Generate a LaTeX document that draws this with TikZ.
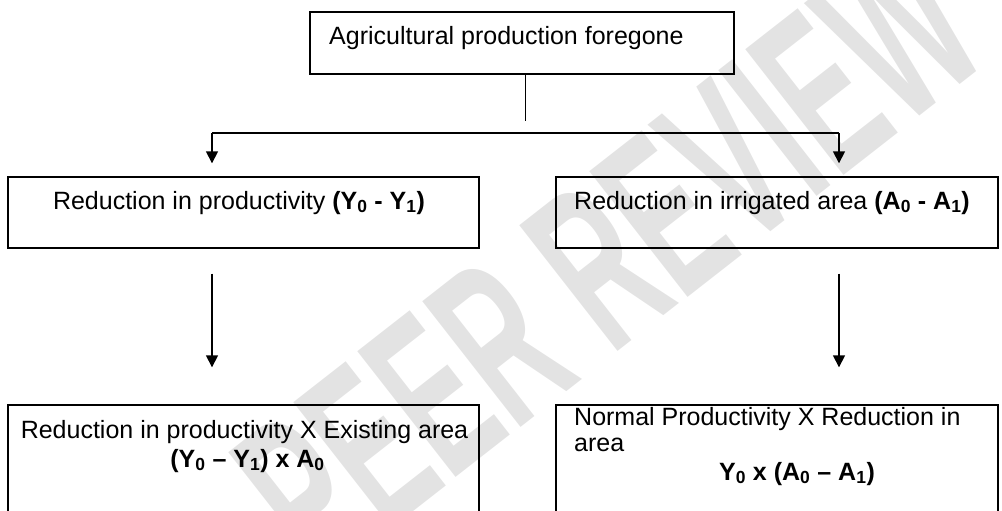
\documentclass[tikz,border=0pt]{standalone}
\usepackage{fontspec}
\setmainfont{Liberation Sans}
\usetikzlibrary{arrows.meta,calc}
\begin{document}
\begin{tikzpicture}[x=1pt,y=-1pt,
  box/.style={draw, line width=1.4pt, rectangle, inner sep=0pt},
  txt/.style={inner sep=0pt, font=\fontsize{25}{29}\selectfont},
  link/.style={line width=1.6pt},
  arr/.style={line width=1.6pt, -{Triangle[width=12pt,length=12pt]}},
  wm/.style={inner sep=0pt, text=black!11, font=\bfseries\fontsize{232}{232}\selectfont}]
\useasboundingbox (0,0) rectangle (1002,511);
\clip (0,0) rectangle (1002,511);
% watermark
\node[wm] (mark) at (608,258) {\rotatebox{38}{\scalebox{0.53}[1]{PEER REVIEW}}};
% boxes
\node[box, minimum width=424pt, minimum height=62pt] (top) at (522,43) {};
\node[box, minimum width=471pt, minimum height=71pt] (midL) at (243.5,212.5) {};
\node[box, minimum width=442pt, minimum height=71pt] (midR) at (777,212.5) {};
\node[box, minimum width=471pt, minimum height=160pt] (botL) at (243.5,485) {};
\node[box, minimum width=442pt, minimum height=160pt] (botR) at (777,485) {};
% texts
\node[txt, anchor=base west] (t0) at (329,45) {Agricultural production foregone};
\node[txt, anchor=base] (t1) at (239,209) {Reduction in productivity \textbf{(Y\textsubscript{0} - Y\textsubscript{1})}};
\node[txt, anchor=base west] (t2) at (574,209) {Reduction in irrigated area \textbf{(A\textsubscript{0} - A\textsubscript{1})}};
\node[txt, anchor=base] (t3) at (244.5,438) {Reduction in productivity X Existing area};
\node[txt, anchor=base] (t4) at (247.5,467) {\textbf{(Y\textsubscript{0} – Y\textsubscript{1}) x A\textsubscript{0}}};
\node[txt, anchor=base west] (t5) at (574,425) {Normal Productivity X Reduction in};
\node[txt, anchor=base west] (t6) at (574,451) {area};
\node[txt, anchor=base] (t7) at (797,480) {\textbf{Y\textsubscript{0} x (A\textsubscript{0} – A\textsubscript{1})}};
% connectors
\coordinate (stem) at (525.5,121);
\coordinate (aL) at (212,133);
\coordinate (aR) at (839,133);
\draw[link] (stem |- top.south) -- (stem);
\draw[link] (aL) -- (aR);
\draw[arr] (aL) -- ([yshift=13pt]aL |- midL.north);
\draw[arr] (aR) -- ([yshift=13pt]aR |- midR.north);
\draw[arr] ([yshift=-25pt]aL |- midL.south) -- ([yshift=37pt]aL |- botL.north);
\draw[arr] ([yshift=-25pt]aR |- midR.south) -- ([yshift=37pt]aR |- botR.north);
\end{tikzpicture}
\end{document}
